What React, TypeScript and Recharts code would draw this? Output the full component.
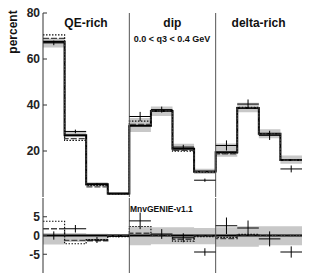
import React from 'react';
import { ComposedChart, Line, Area, Scatter, ErrorBar, XAxis, YAxis, ReferenceLine } from 'recharts';

// three q0 regions, four bins each
const panels = ['QE-rich', 'dip', 'delta-rich'];
const binEdges = [1, 2, 3, 5, 6, 7, 9, 10, 11];

// top panel: percent per bin
const topGenie = [67.5, 26.8, 5.5, 1.5, 31.0, 37.4, 21.0, 11.1, 19.5, 38.7, 27.5, 16.1];
const topDashed = [69.0, 25.4, 4.4, 1.4, 31.6, 37.4, 20.3, 11.0, 18.8, 38.9, 27.4, 16.0];
const topDotted = [70.5, 24.6, 5.0, 1.3, 33.0, 37.4, 19.9, 10.8, 19.2, 39.0, 27.5, 16.1];
const topBandLo = [65.0, 26.0, 4.6, 1.0, 28.3, 35.2, 20.2, 10.0, 17.5, 36.8, 25.5, 14.5];
const topBandHi = [69.0, 28.4, 6.4, 2.0, 34.3, 39.3, 23.2, 12.3, 23.3, 41.0, 29.5, 18.0];
const topData = [67.0, 28.5, 5.6, 1.4, 35.0, 38.0, 21.7, 7.3, 22.4, 40.4, 26.8, 12.2];
const topErr = [1.0, 0.8, 0.5, 0.3, 2.0, 1.3, 1.0, 0.7, 2.2, 2.0, 2.0, 1.5];

// bottom panel: difference from MnvGENIE-v1.1
const diffDashed = [1.8, -1.3, -1.4, 0.0, 0.6, 0.0, -1.0, -0.2, -0.8, 0.2, 0.0, 0.0];
const diffDotted = [3.8, -2.2, -1.1, -0.3, 2.4, 0.0, -1.5, -0.3, -0.5, 0.3, 0.0, 0.0];
const diffBandLo = [-2.4, -1.7, -1.4, -0.4, -2.6, -2.3, -2.3, -2.3, -3.0, -3.0, -2.6, -2.6];
const diffBandHi = [0.7, 0.7, 0.5, 0.4, 2.4, 2.2, 2.2, 2.0, 2.2, 2.5, 2.5, 2.5];
const diffData = [0.0, 1.8, -1.2, -0.2, 3.9, 0.4, -0.6, -4.4, 2.6, 2.0, -0.9, -4.4];
const diffErr = [1.1, 1.0, 0.8, 0.3, 2.2, 1.3, 1.2, 1.0, 2.2, 2.0, 2.0, 1.5];

const nBins = topGenie.length;

// step rows: one per bin edge, last edge repeats the last bin
const stepRows = (cols: Record<string, number[]>) =>
  Array.from({ length: nBins + 1 }, (_, i) => {
    const j = Math.min(i, nBins - 1);
    const row: Record<string, number> = { x: i };
    Object.keys(cols).forEach((k) => (row[k] = cols[k][j]));
    return row;
  });

const pointRows = (vals: number[], errs: number[]) =>
  vals.map((v, i) => ({ x: i + 0.5, y: v, ex: 0.5, ey: errs[i] }));

const topRows = stepRows({ genie: topGenie, dashed: topDashed, dotted: topDotted, lo: topBandLo, hi: topBandHi });
const diffRows = stepRows({ dashed: diffDashed, dotted: diffDotted, lo: diffBandLo, hi: diffBandHi });
const topPts = pointRows(topData, topErr);
const diffPts = pointRows(diffData, diffErr);

const font = 'Liberation Sans, Arial, sans-serif';
const tickFont = { fontSize: 12, fontWeight: 'bold', fill: '#222', fontFamily: font };
const frame = '#333';

function Panel({ rows, pts, domain, ticks, height, top, showGenie }: any) {
  return (
    <div style={{ position: 'absolute', left: 0, top }}>
      <ComposedChart width={314} height={height} data={rows} margin={{ top: top === 0 ? 13 : 1, right: 12, bottom: top === 0 ? 0 : 1, left: 0 }}>
        <XAxis dataKey="x" type="number" domain={[0, nBins]} ticks={binEdges} tick={false} height={0}
          tickSize={-4} stroke={top === 0 ? '#999' : frame} strokeWidth={top === 0 ? 2 : 1} allowDataOverflow />
        <XAxis xAxisId="t" orientation="top" type="number" domain={[0, nBins]} ticks={binEdges} tick={false}
          height={0} tickSize={-4} stroke={top === 0 ? frame : '#999'} strokeWidth={top === 0 ? 1 : 2} />
        <YAxis type="number" domain={domain} ticks={ticks} width={43} tickSize={-4} tickMargin={7}
          tick={tickFont} stroke={frame} interval={0} allowDataOverflow />
        <YAxis yAxisId="r" orientation="right" type="number" domain={domain} ticks={ticks} width={0}
          tickSize={-4} tick={false} stroke={frame} />
        <Area dataKey={(d: any) => [d.lo, d.hi]} type="stepAfter" fill="#c8c8c8" fillOpacity={1}
          stroke="none" isAnimationActive={false} />
        {showGenie ? (
          <Line dataKey="genie" type="stepAfter" stroke="#000" strokeWidth={2} dot={false} isAnimationActive={false} />
        ) : (
          <ReferenceLine y={0} stroke="#000" strokeWidth={2} />
        )}
        <Line dataKey="dashed" type="stepAfter" stroke="#444" strokeWidth={1.3} strokeDasharray="6 2"
          dot={false} isAnimationActive={false} />
        <Line dataKey="dotted" type="stepAfter" stroke="#111" strokeWidth={1.2} strokeDasharray="1.5 1.5"
          dot={false} isAnimationActive={false} />
        <ReferenceLine x={4} stroke="#555" />
        <ReferenceLine x={8} stroke="#555" />
        <Scatter data={pts} dataKey="y" shape={() => <g />} isAnimationActive={false}>
          <ErrorBar dataKey="ex" direction="x" width={0} stroke="#000" strokeWidth={1} />
          <ErrorBar dataKey="ey" direction="y" width={0} stroke="#000" strokeWidth={1} />
        </Scatter>
      </ComposedChart>
    </div>
  );
}

const label = (text: string, left: number, top: number, size: number, width = 86) => (
  <div key={text} style={{ position: 'absolute', left, top, width, textAlign: 'center', fontSize: size,
    fontWeight: 'bold', fontFamily: font, color: '#111', lineHeight: '14px', whiteSpace: 'nowrap' }}>
    {text}
  </div>
);

export default function App() {
  return (
    <div style={{ position: 'absolute', left: 0, top: 0, width: 314, height: 274, background: '#fff', overflow: 'hidden' }}>
      <Panel rows={topRows} pts={topPts} domain={[0, 80]} ticks={[20, 40, 60, 80]} height={197} top={0} showGenie />
      <Panel rows={diffRows} pts={diffPts} domain={[-10, 10]} ticks={[-5, 0, 5]} height={77} top={197} showGenie={false} />
      {panels.map((p, i) => label(p, 43 + i * 86.3, 16, 12))}
      {label('0.0 < q3 < 0.4 GeV', 129, 32, 9)}
      <div style={{ position: 'absolute', left: 130, top: 202, fontSize: 8.5, fontWeight: 'bold', fontFamily: font,
        color: '#111', lineHeight: '14px' }}>MnvGENIE-v1.1</div>
      <div style={{ position: 'absolute', left: -12, top: 25, width: 50, textAlign: 'center', transform: 'rotate(-90deg)',
        fontSize: 12, fontWeight: 'bold', fontFamily: font, color: '#111', lineHeight: '14px' }}>percent</div>
    </div>
  );
}
